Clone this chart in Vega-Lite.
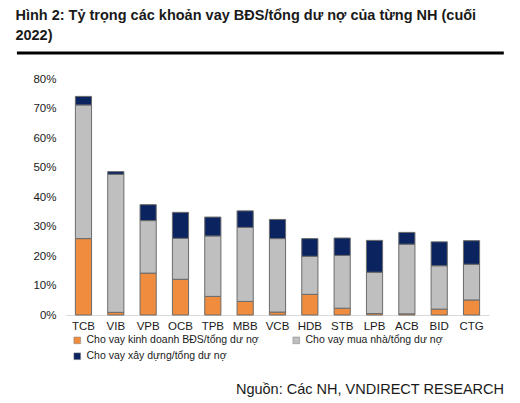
{
  "$schema": "https://vega.github.io/schema/vega-lite/v6.json",
  "background": "white",
  "padding": {"left": 15, "top": 7, "right": 16, "bottom": 4},
  "config": {
    "font": "Liberation Sans",
    "view": {"stroke": null}
  },
  "title": {
    "text": ["Hình 2: Tỷ trọng các khoản vay BĐS/tổng dư nợ của từng NH (cuối", "2022)"],
    "anchor": "start",
    "frame": "bounds",
    "font": "Liberation Sans",
    "fontSize": 14.5,
    "fontWeight": "bold",
    "color": "#1a1a1a",
    "lineHeight": 20,
    "offset": 8
  },
  "spacing": 13,
  "resolve": {"legend": {"color": "independent"}, "scale": {"color": "independent", "x": "independent", "y": "independent"}},
  "vconcat": [
    {
      "width": 423,
      "height": 8,
      "data": {"values": [{"k": 0}]},
      "mark": {"type": "rule", "color": "#000000", "strokeWidth": 3, "clip": false},
      "encoding": {
        "x": {"datum": -0.116, "type": "quantitative", "scale": {"domain": [0, 1], "nice": false, "zero": false}, "axis": null},
        "x2": {"datum": 1.035},
        "y": {"datum": 0.88, "type": "quantitative", "scale": {"domain": [0, 1], "nice": false}, "axis": null}
      }
    },
    {
      "width": 423,
      "height": 236,
      "data": {
        "values": [
          {"bank": "TCB", "Cho vay kinh doanh BĐS/tổng dư nợ": 0.259, "Cho vay mua nhà/tổng dư nợ": 0.453, "Cho vay xây dựng/tổng dư nợ": 0.029},
          {"bank": "VIB", "Cho vay kinh doanh BĐS/tổng dư nợ": 0.009, "Cho vay mua nhà/tổng dư nợ": 0.468, "Cho vay xây dựng/tổng dư nợ": 0.009},
          {"bank": "VPB", "Cho vay kinh doanh BĐS/tổng dư nợ": 0.142, "Cho vay mua nhà/tổng dư nợ": 0.178, "Cho vay xây dựng/tổng dư nợ": 0.054},
          {"bank": "OCB", "Cho vay kinh doanh BĐS/tổng dư nợ": 0.121, "Cho vay mua nhà/tổng dư nợ": 0.139, "Cho vay xây dựng/tổng dư nợ": 0.088},
          {"bank": "TPB", "Cho vay kinh doanh BĐS/tổng dư nợ": 0.063, "Cho vay mua nhà/tổng dư nợ": 0.205, "Cho vay xây dựng/tổng dư nợ": 0.064},
          {"bank": "MBB", "Cho vay kinh doanh BĐS/tổng dư nợ": 0.046, "Cho vay mua nhà/tổng dư nợ": 0.251, "Cho vay xây dựng/tổng dư nợ": 0.056},
          {"bank": "VCB", "Cho vay kinh doanh BĐS/tổng dư nợ": 0.010, "Cho vay mua nhà/tổng dư nợ": 0.249, "Cho vay xây dựng/tổng dư nợ": 0.065},
          {"bank": "HDB", "Cho vay kinh doanh BĐS/tổng dư nợ": 0.070, "Cho vay mua nhà/tổng dư nợ": 0.129, "Cho vay xây dựng/tổng dư nợ": 0.060},
          {"bank": "STB", "Cho vay kinh doanh BĐS/tổng dư nợ": 0.023, "Cho vay mua nhà/tổng dư nợ": 0.179, "Cho vay xây dựng/tổng dư nợ": 0.059},
          {"bank": "LPB", "Cho vay kinh doanh BĐS/tổng dư nợ": 0.005, "Cho vay mua nhà/tổng dư nợ": 0.140, "Cho vay xây dựng/tổng dư nợ": 0.108},
          {"bank": "ACB", "Cho vay kinh doanh BĐS/tổng dư nợ": 0.004, "Cho vay mua nhà/tổng dư nợ": 0.236, "Cho vay xây dựng/tổng dư nợ": 0.040},
          {"bank": "BID", "Cho vay kinh doanh BĐS/tổng dư nợ": 0.020, "Cho vay mua nhà/tổng dư nợ": 0.147, "Cho vay xây dựng/tổng dư nợ": 0.081},
          {"bank": "CTG", "Cho vay kinh doanh BĐS/tổng dư nợ": 0.051, "Cho vay mua nhà/tổng dư nợ": 0.121, "Cho vay xây dựng/tổng dư nợ": 0.080}
        ]
      },
      "transform": [
        {"fold": ["Cho vay kinh doanh BĐS/tổng dư nợ", "Cho vay mua nhà/tổng dư nợ", "Cho vay xây dựng/tổng dư nợ"], "as": ["series", "value"]}
      ],
      "mark": {"type": "bar", "stroke": "#6b6b6b", "strokeWidth": 1},
      "encoding": {
        "x": {
          "field": "bank", "type": "nominal", "sort": null,
          "scale": {"paddingInner": 0.5, "paddingOuter": 0.29},
          "axis": {"title": null, "labelAngle": 0, "ticks": false, "domainColor": "#d9d9d9", "domainWidth": 1, "labelFontSize": 11.5, "labelColor": "#1a1a1a", "labelPadding": 5}
        },
        "y": {
          "field": "value", "type": "quantitative", "stack": "zero",
          "scale": {"domain": [0, 0.8], "nice": false},
          "axis": {"title": null, "format": ".0%", "values": [0, 0.1, 0.2, 0.3, 0.4, 0.5, 0.6, 0.7, 0.8], "grid": false, "domain": false, "ticks": false, "labelFontSize": 11.5, "labelColor": "#1a1a1a", "labelPadding": 10}
        },
        "order": {"field": "series", "sort": "ascending"},
        "color": {
          "field": "series", "type": "nominal",
          "scale": {
            "domain": ["Cho vay kinh doanh BĐS/tổng dư nợ", "Cho vay mua nhà/tổng dư nợ", "Cho vay xây dựng/tổng dư nợ"],
            "range": ["#F08C3D", "#BFBFBF", "#0B2460"]
          },
          "legend": {
            "title": null, "orient": "bottom", "columns": 2, "direction": "horizontal",
            "symbolType": "square", "symbolSize": 45, "symbolStrokeColor": "#7f7f7f", "symbolStrokeWidth": 0.5,
            "labelFontSize": 10.5, "labelColor": "#1a1a1a", "labelLimit": 300,
            "columnPadding": 32, "rowPadding": 5, "offset": -3, "padding": 6
          }
        }
      }
    },
    {
      "width": 423,
      "height": 0,
      "title": {
        "text": "Nguồn: Các NH, VNDIRECT RESEARCH",
        "orient": "top",
        "anchor": "end",
        "frame": "group",
        "dx": 15,
        "offset": 0,
        "font": "Liberation Sans",
        "fontSize": 14.5,
        "fontWeight": "normal",
        "color": "#1a1a1a"
      },
      "data": {"values": [{"k": 0}]},
      "mark": {"type": "text"},
      "encoding": {"text": {"value": ""}}
    }
  ]
}
